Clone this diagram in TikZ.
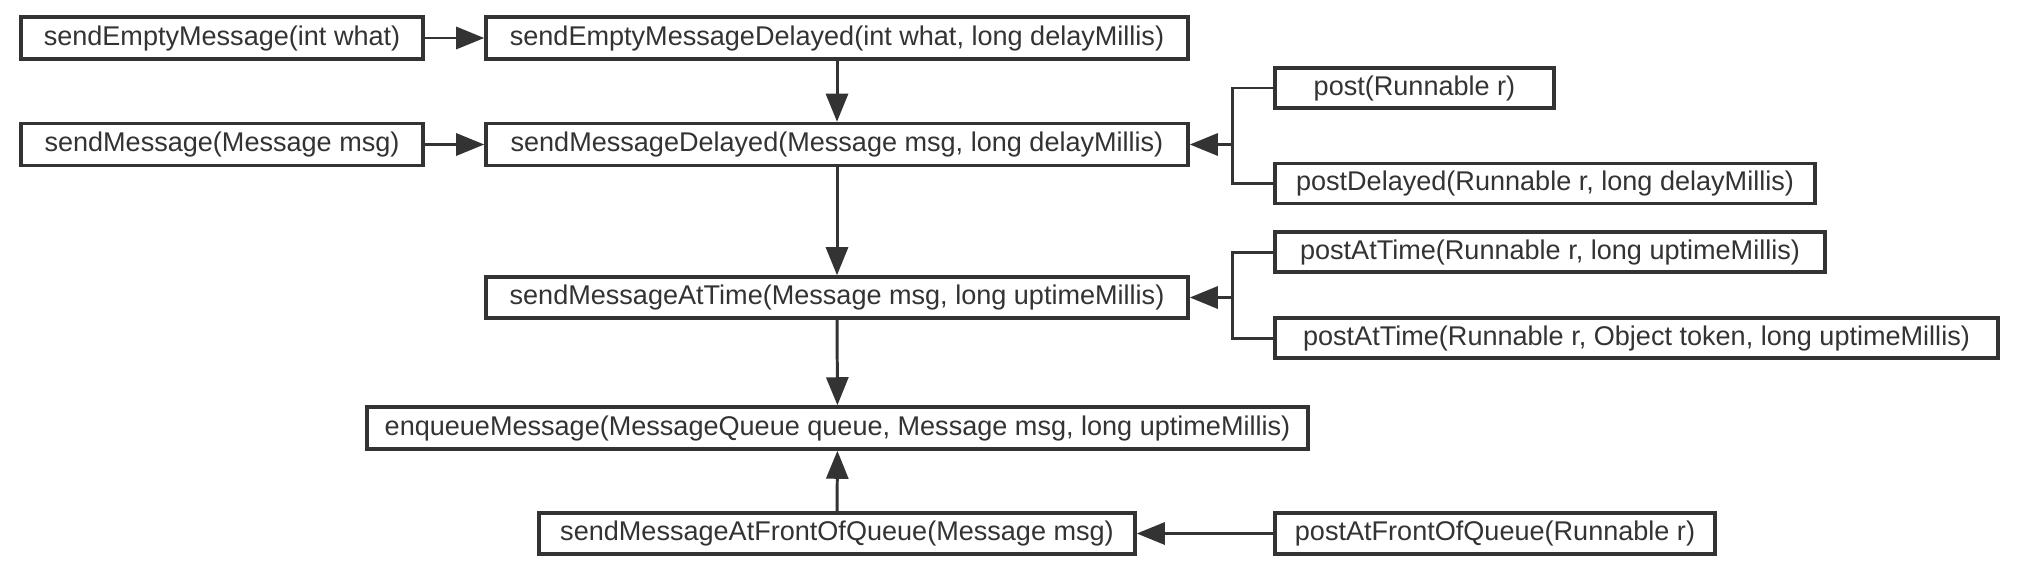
\documentclass[tikz,border=0pt]{standalone}
\usepackage{fontspec}
\setmainfont{Liberation Sans}
\usetikzlibrary{arrows.meta}
\definecolor{ink}{HTML}{333333}
\tikzset{
  callbox/.style={draw=ink, line width=1pt, fill=white, text=ink, inner sep=0pt,
    minimum height=0.42cm, font=\fontsize{7.7pt}{9pt}\selectfont},
  call/.style={draw=ink, line width=0.85pt, -{Triangle[length=0.28cm,width=0.22cm]}},
  branch/.style={draw=ink, line width=0.85pt}
}
\begin{document}
\begin{tikzpicture}
\useasboundingbox (0,0) rectangle (20.2,-5.74);
\node[callbox, minimum width=4.02cm] (emptymsg) at (2.22,-0.38) {sendEmptyMessage(int what)};
\node[callbox, minimum width=7.02cm] (emptydelayed) at (8.37,-0.38) {sendEmptyMessageDelayed(int what, long delayMillis)};
\node[callbox, minimum width=4.02cm] (sendmsg) at (2.22,-1.445) {sendMessage(Message msg)};
\node[callbox, minimum width=7.02cm] (delayed) at (8.37,-1.445) {sendMessageDelayed(Message msg, long delayMillis)};
\node[callbox, minimum width=2.79cm, minimum height=0.40cm] (post) at (14.145,-0.88) {post(Runnable r)};
\node[callbox, minimum width=5.40cm, minimum height=0.40cm] (postdelayed) at (15.45,-1.835) {postDelayed(Runnable r, long delayMillis)};
\node[callbox, minimum width=7.02cm, minimum height=0.41cm] (attime) at (8.37,-2.975) {sendMessageAtTime(Message msg, long uptimeMillis)};
\node[callbox, minimum width=5.50cm, minimum height=0.40cm] (postattime) at (15.50,-2.52) {postAtTime(Runnable r, long uptimeMillis)};
\node[callbox, minimum width=7.23cm, minimum height=0.40cm] (postattoken) at (16.365,-3.38) {postAtTime(Runnable r, Object token, long uptimeMillis)};
\node[callbox, minimum width=9.41cm] (enqueue) at (8.375,-4.28) {enqueueMessage(MessageQueue queue, Message msg, long uptimeMillis)};
\node[callbox, minimum width=5.96cm, minimum height=0.41cm] (front) at (8.37,-5.335) {sendMessageAtFrontOfQueue(Message msg)};
\node[callbox, minimum width=4.40cm, minimum height=0.41cm] (postfront) at (14.95,-5.335) {postAtFrontOfQueue(Runnable r)};

% joints of the post branches
\coordinate (postjoin) at (12.32,-1.445);
\coordinate (timejoin) at (12.32,-2.975);

\draw[call] (emptymsg) -- (emptydelayed);
\draw[call] (sendmsg) -- (delayed);
\draw[call] (emptydelayed) -- (delayed);
\draw[call] (delayed) -- (attime);
\draw[call] (attime) -- (enqueue);
\draw[call] (front) -- (enqueue);
\draw[call] (postfront) -- (front);

\draw[branch] (post.west) -| (postjoin) |- (postdelayed.west);
\draw[call] (postjoin) -- (delayed.east);
\draw[branch] (postattime.west) -| (timejoin) |- (postattoken.west);
\draw[call] (timejoin) -- (attime.east);
\end{tikzpicture}
\end{document}
